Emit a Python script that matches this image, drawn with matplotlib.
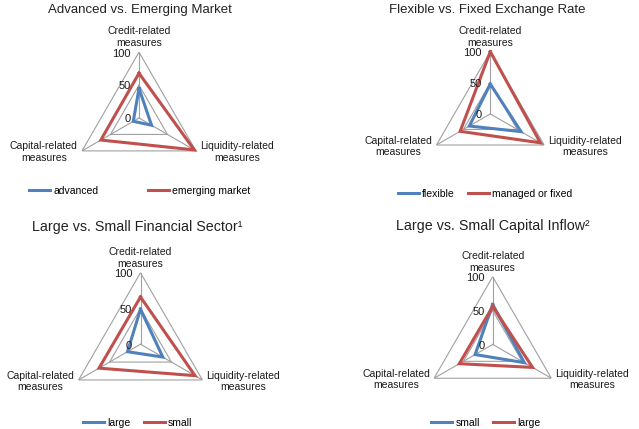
import numpy as np
import matplotlib
matplotlib.use("Agg")
import matplotlib.pyplot as plt

plt.rcParams['font.family'] = ['Liberation Sans', 'DejaVu Sans']

axis_labels = ["Credit-related\nmeasures", "Liquidity-related\nmeasures", "Capital-related\nmeasures"]
ring_levels = [0, 50, 100]

titles = ["Advanced vs. Emerging Market", "Flexible vs. Fixed Exchange Rate",
          "Large vs. Small Financial Sector\u00b9", "Large vs. Small Capital Inflow\u00b2"]

# values ordered as credit, liquidity, capital
advanced = [45, 22, 10]
emerging = [68, 97, 67]
flexible = [48, 57, 39]
managed = [100, 93, 56]
fin_large = [49, 36, 21]
fin_small = [66, 88, 67]
inflow_small = [59, 54, 30]
inflow_large = [56, 68, 57]

series = [
    (("advanced", advanced), ("emerging market", emerging)),
    (("flexible", flexible), ("managed or fixed", managed)),
    (("large", fin_large), ("small", fin_small)),
    (("small", inflow_small), ("large", inflow_large)),
]

W, H = 639, 429
# center x, center y (px from top), radius px
panels = [(139, 118, 65.8), (490.3, 113.9, 62.2), (140.5, 344.2, 71.5), (492.7, 344.4, 67.7)]
title_pos = [(140, 9.5), (487, 9.5), (137, 227), (493, 226)]
title_size = [9.5, 9.5, 10.3, 10.3]
legend_pos = [(140, 191), (485, 194), (138, 423), (486, 423)]
legend_gap = [4.8, 1.3, 1.3, 1.3]

BLUE = "#4F81BD"
RED = "#C0504D"
GRID = "#a0a0a0"
TEXT = "#1a1a1a"

fig = plt.figure(figsize=(W / 100, H / 100), dpi=100)

theta = np.radians([0, 120, 240])

for i, (cx, cy, rad) in enumerate(panels):
    w = 2 * rad / W
    h = 2 * rad / H
    ax = fig.add_axes([cx / W - w / 2, 1 - cy / H - h / 2, w, h], projection='polar')
    ax.set_theta_offset(np.pi / 2)
    ax.set_theta_direction(-1)
    ax.set_ylim(0, 100)
    ax.grid(False)
    ax.spines['polar'].set_visible(False)
    ax.set_xticks([])
    ax.set_yticks([])
    ax.patch.set_alpha(0)

    closed = np.append(theta, theta[0])
    for lvl in ring_levels[1:]:
        ax.plot(closed, [lvl] * 4, color=GRID, lw=0.8, zorder=1)
    for t in theta:
        ax.plot([t, t], [0, 100], color=GRID, lw=0.8, zorder=1)

    (n1, v1), (n2, v2) = series[i]
    ax.plot(closed, v1 + v1[:1], color=BLUE, lw=2.2, label=n1, zorder=3,
            solid_joinstyle='miter', clip_on=False)
    ax.plot(closed, v2 + v2[:1], color=RED, lw=2.2, label=n2, zorder=3,
            solid_joinstyle='miter', clip_on=False)

    for lvl in ring_levels:
        ax.annotate(str(lvl), (0, lvl), xytext=(-6, -1), textcoords='offset points',
                    ha='right', va='center', fontsize=8, color=TEXT, annotation_clip=False)

    ax.annotate(axis_labels[0], (theta[0], 100), xytext=(0, 3), textcoords='offset points',
                ha='center', va='bottom', multialignment='center', fontsize=7.5,
                color=TEXT, annotation_clip=False)
    ax.annotate(axis_labels[1], (theta[1], 100), xytext=(3, -1), textcoords='offset points',
                ha='left', va='center', multialignment='center', fontsize=7.5,
                color=TEXT, annotation_clip=False)
    ax.annotate(axis_labels[2], (theta[2], 100), xytext=(-3, -1), textcoords='offset points',
                ha='right', va='center', multialignment='center', fontsize=7.5,
                color=TEXT, annotation_clip=False)

    tx, ty = title_pos[i]
    fig.text(tx / W, 1 - ty / H, titles[i], ha='center', va='center',
             fontsize=title_size[i], color='#222222')

    lx, ly = legend_pos[i]
    fig.legend(handles=ax.lines[-2:], loc='center', bbox_to_anchor=(lx / W, 1 - ly / H),
               ncol=2, frameon=False, fontsize=7.5, handlelength=2.0, handletextpad=0.3,
               columnspacing=legend_gap[i])

fig.savefig("out.png", dpi=100)
